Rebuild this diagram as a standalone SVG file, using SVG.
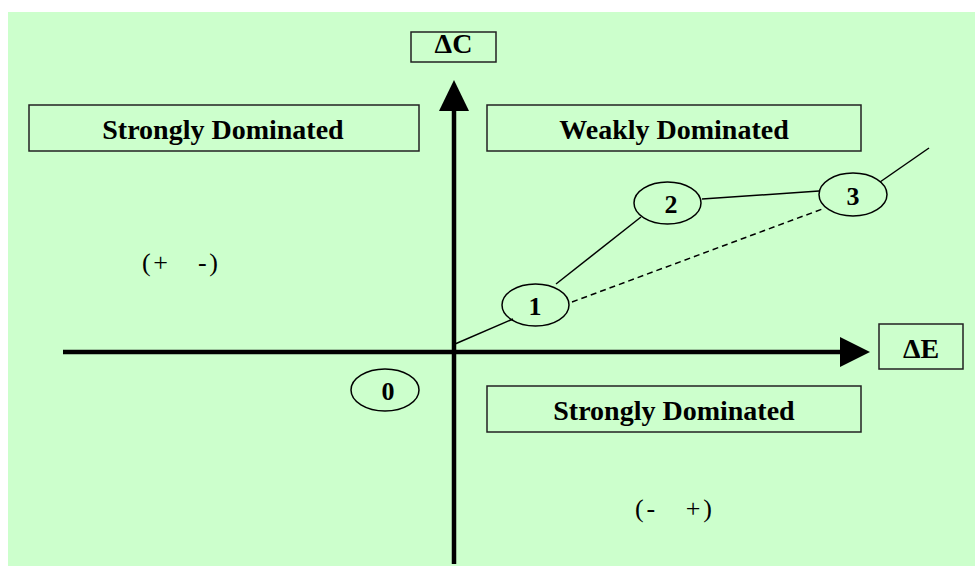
<svg xmlns="http://www.w3.org/2000/svg" width="975" height="571" viewBox="0 0 975 571">
<style>
.bg{fill:#CCFFCC}
.box{fill:none;stroke:#222;stroke-width:1.5}
.lbl{font-family:"Liberation Serif","Times New Roman",serif;font-weight:bold;font-size:28px;fill:#000;text-anchor:middle}
.num{font-family:"Liberation Serif","Times New Roman",serif;font-weight:bold;font-size:26px;fill:#000;text-anchor:middle}
.sgn{font-family:"Liberation Serif","Times New Roman",serif;font-size:26px;fill:#000}
.node{fill:none;stroke:#000;stroke-width:1.5}
.ln{fill:none;stroke:#000;stroke-width:1.5}
.axis{stroke:#000;stroke-width:4.5;fill:none}
</style>
<rect class="bg" x="8" y="12" width="967" height="554"/>
<g id="axes">
<line class="axis" x1="454" y1="108" x2="454" y2="564"/>
<polygon points="454,80 439,111 469,111" fill="#000"/>
<line class="axis" x1="63" y1="352" x2="842" y2="352"/>
<polygon points="870,352 840,337 840,367" fill="#000"/>
</g>
<g id="label-dC"><rect class="box" x="411" y="32" width="85" height="30"/><text class="lbl" x="453.5" y="53">ΔC</text></g>
<g id="label-dE"><rect class="box" x="879" y="324" width="84" height="45"/><text class="lbl" x="921" y="358">ΔE</text></g>
<g id="box-strong-tl"><rect class="box" x="29" y="105" width="390" height="46"/><text class="lbl" x="223" y="139">Strongly Dominated</text></g>
<g id="box-weak"><rect class="box" x="487" y="105" width="374" height="46"/><text class="lbl" x="674" y="139">Weakly Dominated</text></g>
<g id="box-strong-br"><rect class="box" x="487" y="386" width="374" height="46"/><text class="lbl" x="674" y="420">Strongly Dominated</text></g>
<g id="sign-tl"><text class="sgn" x="142" y="271" xml:space="preserve" textLength="76" lengthAdjust="spacing">(+   -)</text></g>
<g id="sign-br"><text class="sgn" x="635" y="517" xml:space="preserve" textLength="77" lengthAdjust="spacing">(-   +)</text></g>
<g id="connectors">
<line class="ln" x1="455" y1="344" x2="513" y2="319"/>
<line class="ln" x1="556" y1="284" x2="641" y2="217"/>
<line class="ln" x1="702" y1="199" x2="819" y2="191"/>
<line class="ln" x1="880" y1="182" x2="929" y2="148"/>
<line class="ln" x1="572" y1="302" x2="825" y2="208" stroke-dasharray="6,4"/>
</g>
<g id="node0"><ellipse class="node" cx="385" cy="390" rx="34" ry="21"/><text class="num" x="388" y="400">0</text></g>
<g id="node1"><ellipse class="node" cx="535.5" cy="305" rx="33.5" ry="21"/><text class="num" x="535" y="315">1</text></g>
<g id="node2"><ellipse class="node" cx="667.5" cy="203" rx="33.5" ry="21"/><text class="num" x="671" y="213">2</text></g>
<g id="node3"><ellipse class="node" cx="853" cy="194.5" rx="34" ry="21.5"/><text class="num" x="853" y="205">3</text></g>
</svg>
